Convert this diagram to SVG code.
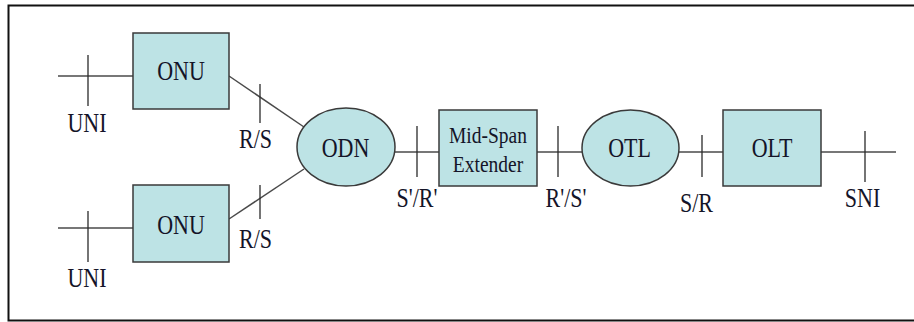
<svg xmlns="http://www.w3.org/2000/svg" width="914" height="322" viewBox="0 0 914 322">
<style>
  .box { fill: #bde3e5; stroke: #3a3a3a; stroke-width: 1.5; }
  .ln { stroke: #4a4a4a; stroke-width: 1.5; fill: none; }
  .tick { stroke: #2a2a2a; stroke-width: 1.3; fill: none; }
  .t { font-family: "Liberation Serif", "Times New Roman", serif; font-size: 22px; fill: #141428; text-anchor: middle; }
  .s { font-size: 19.5px; }
</style>
<rect width="914" height="322" fill="#ffffff"/>
<path d="M 914 5.5 H 8.5 V 320.5 H 914" fill="none" stroke="#111" stroke-width="2"/>

<g id="connectors">
  <line class="ln" x1="58" y1="76" x2="133" y2="76"/>
  <line class="ln" x1="58" y1="228" x2="133" y2="228"/>
  <line class="ln" x1="229" y1="76" x2="304" y2="127"/>
  <line class="ln" x1="229" y1="219" x2="304" y2="169"/>
  <line class="ln" x1="395" y1="152" x2="439" y2="152"/>
  <line class="ln" x1="537" y1="152" x2="582" y2="152"/>
  <line class="ln" x1="679" y1="152" x2="723" y2="152"/>
  <line class="ln" x1="821" y1="152" x2="896" y2="152"/>
  <line class="tick" x1="88" y1="55" x2="88" y2="106"/>
  <line class="tick" x1="88" y1="211" x2="88" y2="262"/>
  <line class="tick" x1="260" y1="84" x2="260" y2="123"/>
  <line class="tick" x1="260" y1="185" x2="260" y2="219"/>
  <line class="tick" x1="417" y1="126" x2="417" y2="177"/>
  <line class="tick" x1="558" y1="126" x2="558" y2="177"/>
  <line class="tick" x1="702" y1="135" x2="702" y2="177"/>
  <line class="tick" x1="865" y1="131" x2="865" y2="182"/>
  <text class="t" transform="translate(87 132) scale(1 1.2)">UNI</text>
  <text class="t" transform="translate(87 287) scale(1 1.2)">UNI</text>
  <text class="t" transform="translate(255.5 148) scale(1 1.2)">R/S</text>
  <text class="t" transform="translate(255.5 248) scale(1 1.2)">R/S</text>
  <text class="t" transform="translate(417 207) scale(1 1.2)">S'/R'</text>
  <text class="t" transform="translate(566 207) scale(1 1.2)">R'/S'</text>
  <text class="t" transform="translate(696.5 212) scale(1 1.2)">S/R</text>
  <text class="t" transform="translate(862.5 207) scale(1 1.2)">SNI</text>
</g>

<g id="onu1">
  <rect class="box" x="133" y="33" width="96" height="76"/>
  <text class="t" transform="translate(181 80) scale(1 1.2)">ONU</text>
</g>
<g id="onu2">
  <rect class="box" x="133" y="185" width="96" height="77"/>
  <text class="t" transform="translate(181 234) scale(1 1.2)">ONU</text>
</g>
<g id="odn">
  <ellipse class="box" cx="346" cy="147" rx="49" ry="39"/>
  <text class="t" transform="translate(345.5 157) scale(1 1.2)">ODN</text>
</g>
<g id="extender">
  <rect class="box" x="439" y="110" width="98" height="76"/>
  <text class="t s" transform="translate(488 143) scale(1 1.2)">Mid-Span</text>
  <text class="t s" transform="translate(488 172) scale(1 1.2)">Extender</text>
</g>
<g id="otl">
  <ellipse class="box" cx="630.5" cy="148" rx="48.5" ry="38"/>
  <text class="t" transform="translate(629.5 157) scale(1 1.2)">OTL</text>
</g>
<g id="olt">
  <rect class="box" x="723" y="110" width="98" height="76"/>
  <text class="t" transform="translate(772 157) scale(1 1.2)">OLT</text>
</g>
</svg>
